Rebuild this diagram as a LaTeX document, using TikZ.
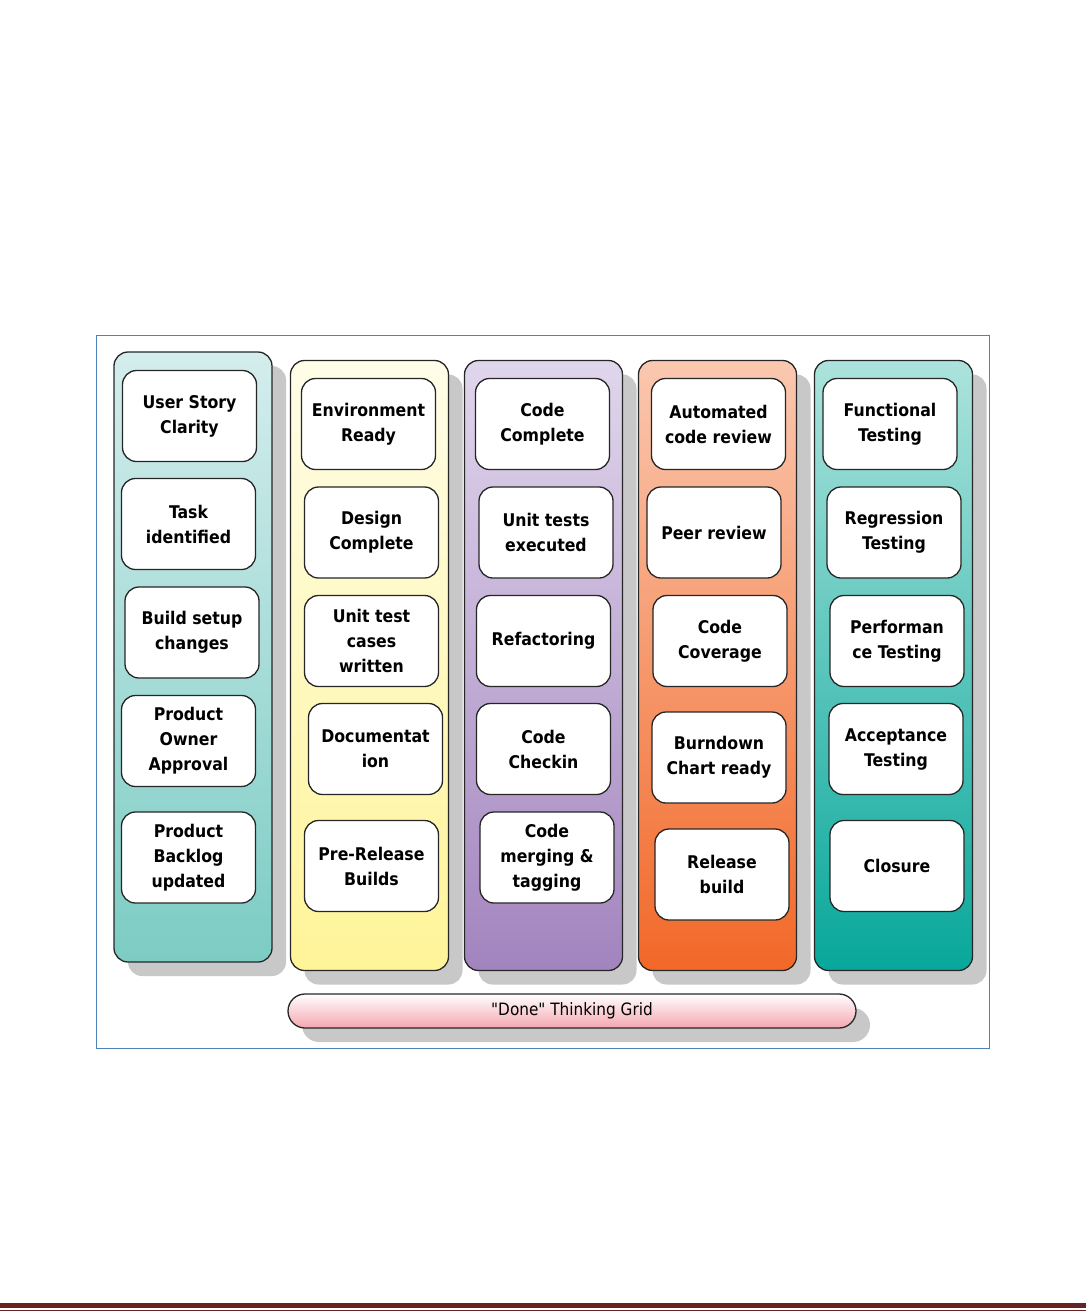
\documentclass[tikz,border=0pt]{standalone}
\usepackage{fontspec}
\setmainfont{DejaVu Sans Condensed}
\usepackage{tikz}
\usetikzlibrary{shadows}
\usepackage{xcolor}

\definecolor{shadowgray}{RGB}{200,200,200}
\definecolor{frameblue}{RGB}{79,129,189}
\definecolor{rulered}{RGB}{99,36,35}
\definecolor{tealTop}{RGB}{212,237,237}
\definecolor{tealBot}{RGB}{124,204,196}
\definecolor{yellowTop}{RGB}{255,253,232}
\definecolor{yellowBot}{RGB}{255,244,152}
\definecolor{purpleTop}{RGB}{224,214,236}
\definecolor{purpleBot}{RGB}{162,132,190}
\definecolor{orangeTop}{RGB}{250,200,176}
\definecolor{orangeBot}{RGB}{242,104,40}
\definecolor{greenTop}{RGB}{172,227,220}
\definecolor{greenBot}{RGB}{8,167,155}
\definecolor{pinkBot}{RGB}{244,166,176}

\begin{document}
\begin{tikzpicture}[
  x=1pt, y=-1pt,
  column/.style={draw=black!85, line width=1.3pt, rounded corners=14pt,
    minimum width=158pt, minimum height=610pt,
    drop shadow={shadow xshift=14pt, shadow yshift=-14pt, fill=shadowgray, opacity=1}},
  task/.style={draw=black!85, fill=white, line width=1.3pt, rounded corners=14pt,
    minimum width=134pt, minimum height=91pt, inner sep=1pt, align=center,
    font=\fontsize{17.5}{25}\selectfont\bfseries},
  banner/.style={draw=black!85, line width=1.3pt, rounded corners=17pt,
    minimum width=568pt, minimum height=34pt, top color=white, bottom color=pinkBot,
    font=\fontsize{17}{20}\selectfont,
    drop shadow={shadow xshift=14pt, shadow yshift=-14pt, fill=shadowgray, opacity=1}}
]
\useasboundingbox (0,0) rectangle (1086,1312);

% Frame
\draw[frameblue, line width=1pt] (96,335) rectangle (989,1048);

% Columns (left to right)
\node[column, top color=tealTop, bottom color=tealBot] (planning) at (193,657) {};
\node[column, top color=yellowTop, bottom color=yellowBot] (design) at (369.5,665.5) {};
\node[column, top color=purpleTop, bottom color=purpleBot] (coding) at (543.5,665.5) {};
\node[column, top color=orangeTop, bottom color=orangeBot] (review) at (717.5,665.5) {};
\node[column, top color=greenTop, bottom color=greenBot] (testing) at (893.5,665.5) {};

% Planning tasks
\node[task] (story) at (189.5,416) {User Story\\Clarity};
\node[task] (taskid) at (188.5,524) {Task\\identified};
\node[task] (buildsetup) at (192,632.5) {Build setup\\changes};
\node[task] (poapproval) at (188.5,741) {Product\\Owner\\Approval};
\node[task] (backlog) at (188.5,857.5) {Product\\Backlog\\updated};

% Design tasks
\node[task] (envready) at (368.5,424) {Environment\\Ready};
\node[task] (designdone) at (371.5,532.5) {Design\\Complete};
\node[task] (testcases) at (371.5,641) {Unit test\\cases\\written};
\node[task] (docs) at (375.5,749) {Documentat\\ion};
\node[task] (prerelease) at (371.5,866) {Pre-Release\\Builds};

% Coding tasks
\node[task] (codedone) at (542.5,424) {Code\\Complete};
\node[task] (unittests) at (546,532.5) {Unit tests\\executed};
\node[task] (refactor) at (543.5,641) {Refactoring};
\node[task] (checkin) at (543.5,749) {Code\\Checkin};
\node[task] (merging) at (547,857.5) {Code\\merging \&\\tagging};

% Review tasks
\node[task] (autoreview) at (718.5,424) {Automated\\code review};
\node[task] (peerreview) at (714,532.5) {Peer review};
\node[task] (coverage) at (720,641) {Code\\Coverage};
\node[task] (burndown) at (719,757.5) {Burndown\\Chart ready};
\node[task] (releasebuild) at (722,874.5) {Release\\build};

% Testing tasks
\node[task] (functional) at (890,424) {Functional\\Testing};
\node[task] (regression) at (894,532.5) {Regression\\Testing};
\node[task] (performance) at (897,641) {Performan\\ce Testing};
\node[task] (acceptance) at (896,749) {Acceptance\\Testing};
\node[task] (closure) at (897,866) {Closure};

% Title banner
\node[banner] (grid) at (572,1011) {\textquotedbl Done\textquotedbl{} Thinking Grid};

% Page rule
\fill[rulered] (0,1303) rectangle (1086,1308);
\fill[rulered] (0,1309.7) rectangle (1086,1311);

\end{tikzpicture}
\end{document}
